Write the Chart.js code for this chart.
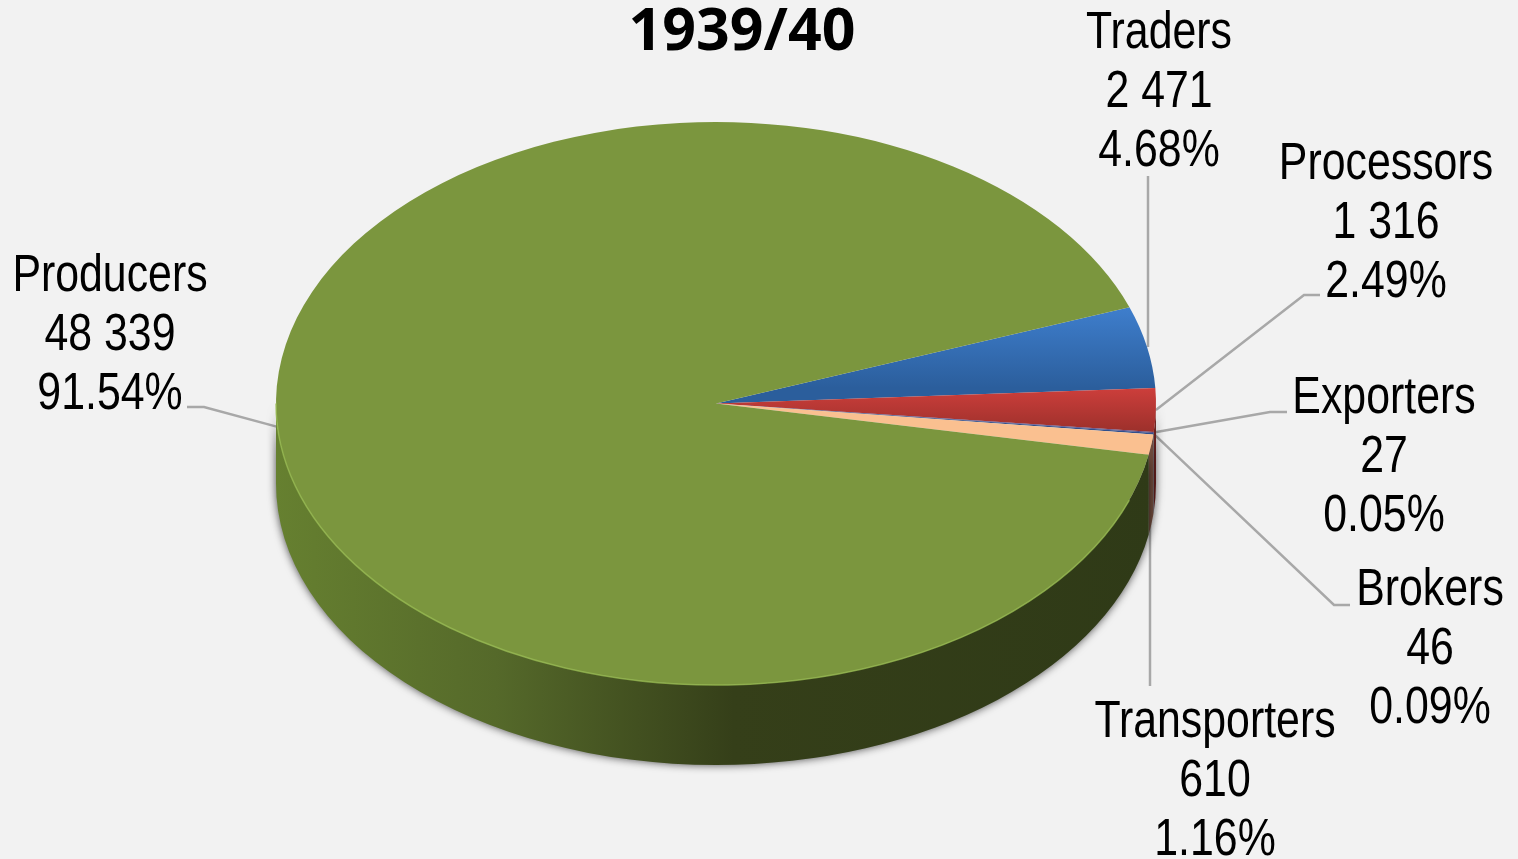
<!DOCTYPE html>
<html><head><meta charset="utf-8">
<script src="https://cdn.jsdelivr.net/npm/chart.js@4"></script>
<style>html,body{margin:0;padding:0;background:#f2f2f2;overflow:hidden}canvas{display:block}</style>
</head><body><canvas id="c" width="1518" height="859"></canvas>
<script>
const title = "1939/40";
const categories = ["Traders","Processors","Exporters","Brokers","Transporters","Producers"];
const values = [2471,1316,27,46,610,48339];
const valueLabels = ["2 471","1 316","27","46","610","48 339"];
const percentLabels = ["4.68%","2.49%","0.05%","0.09%","1.16%","91.54%"];
const topColors = [["#3f7fce","#2b5e9c"],["#cf3f3c","#9c302b"],["#5f4a86","#3a2a6a"],["#2f4f8c","#2f4f8c"],["#fac090","#fac090"],["#7b963e","#7b963e"]];
const wallColors = ["#2b4a78","#6e2523","#3c2c55","#2a4a5c","#6e4a3c",null];
const fillSpans = [[305,388],[386,432],[430,436],[430,436],[430,455],[122,685]];
const greenWallStops = [[0,"#668030"],[0.25,"#55692a"],[0.52,"#353f19"],[1,"#2f3a17"]];
// label text centre x, first baseline y, elbow points between the slice and the text
const labelLayout = [
  {x:1159,y:48, elbow:[[1148,176]]},
  {x:1386,y:179,elbow:[[1304,295],[1320,295]]},
  {x:1384,y:413,elbow:[[1270,412],[1287,412]]},
  {x:1430,y:605,elbow:[[1334,605],[1350,605]]},
  {x:1215,y:737,elbow:[[1150,686]]},
  {x:110, y:291,elbow:[[204,407],[187,407]]}
];
const lineGap = 59;
const narrow = 0.84;
const RX = 440, RY = 281.5, DEPTH = 80;
const startAt = 70;

const pie3d = {
  id:'pie3d',
  beforeDatasetsDraw(chart){
    const ctx = chart.ctx, arcs = chart.getDatasetMeta(0).data;
    const cx = arcs[0].x, cy = arcs[0].y;
    // leader lines, under the pie
    ctx.save();
    ctx.strokeStyle = "#a8a8a8"; ctx.lineWidth = 2.5;
    arcs.forEach((a,i)=>{
      const mid = (a.startAngle+a.endAngle)/2;
      const ax = cx+RX*Math.cos(mid), ay = cy+RY*Math.sin(mid);
      const pts = labelLayout[i].elbow;
      ctx.beginPath();
      ctx.moveTo(i===4||i===0 ? pts[0][0] : ax, ay);
      pts.forEach(p=>ctx.lineTo(p[0],p[1]));
      ctx.stroke();
    });
    ctx.restore();
    // side wall
    ctx.save();
    arcs.forEach((a,i)=>{
      const s = Math.max(a.startAngle,0), e = Math.min(a.endAngle,Math.PI);
      if (e<=s) return;
      ctx.beginPath();
      ctx.ellipse(cx,cy,RX,RY,0,s,e);
      ctx.ellipse(cx,cy+DEPTH,RX,RY,0,e,s,true);
      ctx.closePath();
      if (wallColors[i]) ctx.fillStyle = wallColors[i];
      else {
        const g = ctx.createLinearGradient(cx-RX,0,cx+RX,0);
        greenWallStops.forEach(p=>g.addColorStop(p[0],p[1]));
        ctx.fillStyle = g;
      }
      ctx.shadowColor = "rgba(0,0,0,0.7)"; ctx.shadowBlur = 9;
      ctx.fill();
    });
    ctx.restore();
    // squash the round pie into the tilted top ellipse
    ctx.save();
    ctx.translate(cx,cy); ctx.scale(RX/arcs[0].outerRadius,RY/arcs[0].outerRadius); ctx.translate(-cx,-cy);
  },
  afterDatasetsDraw(chart){
    const ctx = chart.ctx, arcs = chart.getDatasetMeta(0).data;
    ctx.restore();
    const cx = arcs[0].x, cy = arcs[0].y, g = arcs[5];
    ctx.save();
    ctx.beginPath();
    ctx.ellipse(cx,cy,RX,RY,0,Math.max(g.startAngle,0.35),Math.PI);
    ctx.strokeStyle = "rgba(150,185,80,0.8)"; ctx.lineWidth = 1.5; ctx.stroke();
    ctx.restore();
    // text
    ctx.save();
    ctx.fillStyle = "#000"; ctx.textAlign = "center"; ctx.textBaseline = "alphabetic";
    ctx.font = "bold 59px 'Open Sans'";
    ctx.fillText(title,742,50);
    ctx.font = "51px 'Liberation Sans'";
    categories.forEach((c,i)=>{
      const L = labelLayout[i];
      [c,valueLabels[i],percentLabels[i]].forEach((t,k)=>{
        ctx.save();
        ctx.translate(L.x,L.y+k*lineGap); ctx.scale(narrow,1);
        ctx.fillText(t,0,0);
        ctx.restore();
      });
    });
    ctx.restore();
  }
};

new Chart(document.getElementById('c'),{
  type:'pie',
  data:{labels:categories,datasets:[{
    data:values,
    borderWidth:0,
    backgroundColor:(c)=>{
      const i = c.dataIndex; if (i===undefined) return "#7b963e";
      const g = c.chart.ctx.createLinearGradient(0,fillSpans[i][0],0,fillSpans[i][1]);
      g.addColorStop(0,topColors[i][0]); g.addColorStop(1,topColors[i][1]);
      return g;
    }
  }]},
  options:{
    responsive:false,animation:false,rotation:startAt,
    layout:{padding:{left:434.5,right:520.5,top:122,bottom:174}},
    plugins:{legend:{display:false},title:{display:false},tooltip:{enabled:false}}
  },
  plugins:[pie3d]
});
</script></body></html>
